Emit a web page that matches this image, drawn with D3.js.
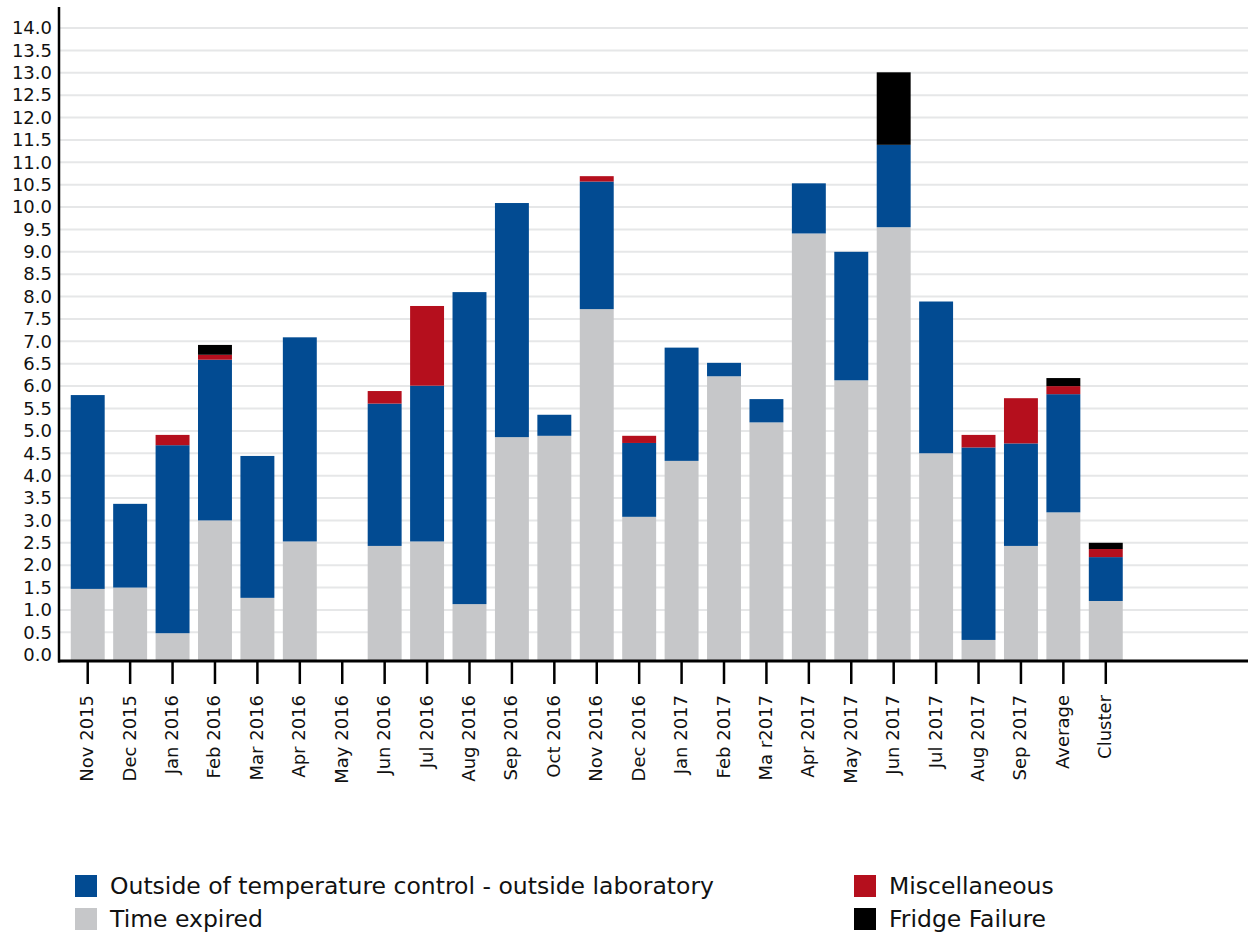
<!DOCTYPE html>
<html>
<head>
<meta charset="utf-8">
<script src="https://cdn.jsdelivr.net/npm/d3@7/dist/d3.min.js"></script>
<style>
  html, body { margin: 0; padding: 0; background: #fff; }
  svg { display: block; font-family: "DejaVu Sans", sans-serif; }
</style>
</head>
<body>
<svg id="chart" width="1248" height="934"></svg>
<script>
const categories = ["Nov 2015","Dec 2015","Jan 2016","Feb 2016","Mar 2016","Apr 2016","May 2016","Jun 2016","Jul 2016","Aug 2016","Sep 2016","Oct 2016","Nov 2016","Dec 2016","Jan 2017","Feb 2017","Ma r2017","Apr 2017","May 2017","Jun 2017","Jul 2017","Aug 2017","Sep 2017","Average","Cluster"];
const timeExpired   = [1.47,1.50,0.48,3.00,1.27,2.53,0,2.43,2.53,1.13,4.86,4.89,7.72,3.08,4.33,6.22,5.19,9.41,6.13,9.55,4.50,0.33,2.43,3.18,1.20];
const outsideTemp   = [4.33,1.87,4.20,3.59,3.17,4.56,0,3.18,3.48,6.97,5.23,0.47,2.85,1.65,2.53,0.30,0.52,1.12,2.87,1.84,3.39,4.30,2.29,2.64,0.98];
const miscellaneous = [0,0,0.23,0.11,0,0,0,0.28,1.78,0,0,0,0.12,0.16,0,0,0,0,0,0,0,0.28,1.01,0.18,0.18];
const fridgeFailure = [0,0,0,0.22,0,0,0,0,0,0,0,0,0,0,0,0,0,0,0,1.62,0,0,0,0.18,0.14];
const yTickValues = [0,0.5,1,1.5,2,2.5,3,3.5,4,4.5,5,5.5,6,6.5,7,7.5,8,8.5,9,9.5,10,10.5,11,11.5,12,12.5,13,13.5,14];
const seriesKeys = ["expired","outside","misc","fridge"];
const seriesNames = {outside:"Outside of temperature control - outside laboratory", expired:"Time expired", misc:"Miscellaneous", fridge:"Fridge Failure"};
const colors = {expired:"#c6c7c9", outside:"#024b92", misc:"#b50f1d", fridge:"#000000"};

const rows = categories.map((c,i)=>({cat:c, expired:timeExpired[i], outside:outsideTemp[i], misc:miscellaneous[i], fridge:fridgeFailure[i]}));

const svg = d3.select("#chart");
const axisX = 59, axisY = 661, rightEdge = 1248;

const x = d3.scaleBand().domain(categories).range([59, 1134.5]).paddingInner(0.2).paddingOuter(0.277);
const y = d3.scaleLinear().domain([0,14]).range([654.7, 28]);

// gridlines
svg.append("g").selectAll("line").data(yTickValues.filter(v=>v>0)).join("line")
  .attr("x1", axisX).attr("x2", rightEdge)
  .attr("y1", d=>y(d)).attr("y2", d=>y(d))
  .attr("stroke", "#e6e7e8").attr("stroke-width", 2);

// bars
const stacked = d3.stack().keys(seriesKeys)(rows);
svg.append("g").selectAll("g").data(stacked).join("g")
  .attr("fill", d=>colors[d.key])
  .selectAll("rect").data(d=>d.filter(p=>p[1]-p[0]>0)).join("rect")
  .attr("x", d=>x(d.data.cat))
  .attr("width", x.bandwidth())
  .attr("y", d=>y(d[1]))
  .attr("height", d=>(d[0]===0 ? axisY : y(d[0])) - y(d[1]));

// y axis
const yAxis = d3.axisLeft(y).tickValues(yTickValues).tickFormat(d3.format(".1f")).tickSize(0).tickPadding(7);
const gy = svg.append("g").attr("transform", `translate(${axisX},0)`).call(yAxis);
gy.select(".domain").remove();
gy.selectAll("text").attr("font-size", 18).attr("fill", "#111").attr("font-family", "'DejaVu Sans', sans-serif");
svg.append("line").attr("x1", axisX).attr("x2", axisX).attr("y1", 7).attr("y2", axisY+1.5)
  .attr("stroke", "#000").attr("stroke-width", 2.5);

// x axis
const xAxis = d3.axisBottom(x).tickSize(23).tickSizeOuter(0);
const gx = svg.append("g").attr("transform", `translate(0,${axisY})`).call(xAxis);
gx.select(".domain").remove();
gx.selectAll(".tick line").attr("stroke", "#000").attr("stroke-width", 2.5);
gx.selectAll(".tick text")
  .attr("font-size", 18).attr("fill", "#111").attr("font-family", "'DejaVu Sans', sans-serif")
  .attr("text-anchor", "end").attr("dy", null).attr("y", null)
  .attr("dominant-baseline", "central")
  .attr("transform", "translate(-1,34) rotate(-90)");
svg.append("line").attr("x1", axisX-1).attr("x2", rightEdge).attr("y1", axisY).attr("y2", axisY)
  .attr("stroke", "#000").attr("stroke-width", 3);

// legend
const legendItems = [
  {key:"outside", x:75, y:875},
  {key:"expired", x:75, y:908},
  {key:"misc", x:854, y:875},
  {key:"fridge", x:854, y:908}
];
const lg = svg.append("g").selectAll("g").data(legendItems).join("g")
  .attr("transform", d=>`translate(${d.x},${d.y})`);
lg.append("rect").attr("width", 22).attr("height", 22).attr("fill", d=>colors[d.key]);
lg.append("text").attr("x", 35).attr("y", 11).attr("dominant-baseline", "central")
  .attr("font-size", 23.5).attr("fill", "#111").text(d=>seriesNames[d.key]);
</script>
</body>
</html>
